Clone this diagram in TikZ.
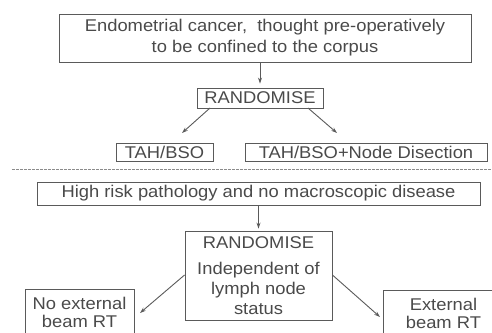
\documentclass[tikz,border=0pt]{standalone}
\usepackage{fontspec}
\setmainfont[FakeStretch=1.08]{Liberation Sans}
\usetikzlibrary{arrows.meta}
\definecolor{ink}{HTML}{5A5A5A}
\definecolor{txt}{HTML}{4A4A4A}
\begin{document}
\begin{tikzpicture}[x=1pt,y=-1pt,
  box/.style={draw=ink,line width=0.9pt,inner sep=0pt,text=txt,align=center,
    font=\fontsize{17}{21}\selectfont},
  arr/.style={draw=ink,line width=0.9pt,-{Stealth[length=6pt,width=4pt]}}]
\useasboundingbox (0,0) rectangle (492,332);
\clip (0,0) rectangle (492,332);
\node[box,minimum width=412pt,minimum height=48pt] (top) at (265,38)
  {Endometrial cancer,\ \ thought pre-operatively\\to be confined to the corpus};
\node[box,minimum width=126pt,minimum height=20pt] (r1) at (260,98) {RANDOMISE};
\node[box,minimum width=97pt,minimum height=18pt] (tah) at (164.5,152) {TAH/BSO};
\node[box,minimum width=242pt,minimum height=18pt] (tahn) at (366,152) {TAH/BSO+Node Disection};
\draw[arr,shorten >=4pt] (top.south -| r1.north) -- (r1.north);
\coordinate (a1s) at (210,108);
\coordinate (a1e) at (182,133);
\coordinate (a2s) at (308,108);
\coordinate (a2e) at (337,133);
\draw[arr] (a1s) -- (a1e);
\draw[arr] (a2s) -- (a2e);
\coordinate (dl) at (12,169);
\coordinate (dr) at (492,169);
\draw[ink!70,line width=0.8pt,dash pattern=on 2.5pt off 1.5pt] (dl) -- (dr);
\node[box,minimum width=443pt,minimum height=23pt] (hr) at (258.5,193.5)
  {High risk pathology and no macroscopic disease};
\node[box,minimum width=147pt,minimum height=89pt] (r2) at (258.5,275.5)
  {RANDOMISE\\[5pt]Independent of\\[-1pt]lymph node\\[-1pt]status};
\node[box,minimum width=109pt,minimum height=46pt,anchor=north] (nox) at (79.5,289)
  {No external\\[-3pt]beam RT};
\node[box,minimum width=120pt,minimum height=46pt,anchor=north west] (ext) at (383,290)
  {External\\[-3pt]beam RT};
\draw[arr,shorten >=2pt] (hr.south -| r2.north) -- (r2.north);
\coordinate (b1e) at (140,313);
\coordinate (b2e) at (380,317);
\draw[arr] (r2.west |- 0,275) -- (b1e);
\draw[arr] (r2.east |- 0,275) -- (b2e);
\end{tikzpicture}
\end{document}
